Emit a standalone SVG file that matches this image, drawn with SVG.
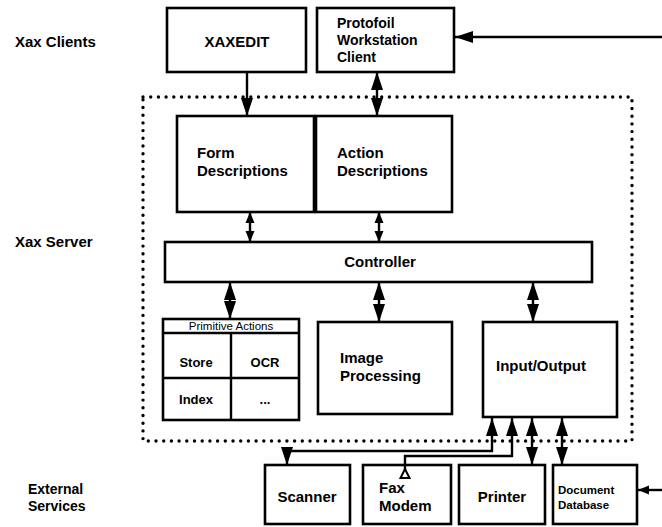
<svg xmlns="http://www.w3.org/2000/svg" width="662" height="527" viewBox="0 0 662 527">
<defs>
<style>
.box{fill:#fff;stroke:#000;stroke-width:2.6}
.ln{fill:none;stroke:#000;stroke-width:2.4}
.t{font-family:"Liberation Sans",Arial,sans-serif;font-weight:bold;font-size:15px;fill:#000}
.m{text-anchor:middle}
.sm{font-size:13px}
.ml{font-size:14px}
.xs{font-size:11.5px}
.hd{font-family:"Liberation Sans",Arial,sans-serif;font-size:11.5px;fill:#000;text-anchor:middle}
.dot{fill:none;stroke:#000;stroke-width:3.4;stroke-linecap:round;stroke-dasharray:0 7.7}
</style>
<marker id="a" markerUnits="userSpaceOnUse" markerWidth="18" markerHeight="13" refX="18" refY="6.5" orient="auto-start-reverse">
<path d="M0,0.5 L18,6.5 L0,12.5 z" fill="#000"/>
</marker>
<marker id="s" markerUnits="userSpaceOnUse" markerWidth="11" markerHeight="10" refX="11" refY="5" orient="auto-start-reverse">
<path d="M0,0.5 L11,5 L0,9.5 z" fill="#000"/>
</marker>
</defs>
<rect width="662" height="527" fill="#fff"/>

<g id="tier-labels">
<text class="t" x="15" y="47">Xax Clients</text>
<text class="t" x="15" y="247">Xax Server</text>
<text class="t ml" x="28" y="494">External</text>
<text class="t ml" x="28" y="511">Services</text>
</g>

<g id="server-boundary">
<rect class="dot" x="143" y="97" width="489" height="344"/>
</g>

<g id="xaxedit">
<rect class="box" x="167" y="8" width="139" height="64"/>
<text class="t m" x="237" y="47">XAXEDIT</text>
</g>

<g id="protofoil">
<rect class="box" x="317" y="8" width="137" height="64"/>
<text class="t ml" x="337" y="28">Protofoil</text>
<text class="t ml" x="337" y="45">Workstation</text>
<text class="t ml" x="337" y="62">Client</text>
</g>

<g id="form-descriptions">
<rect class="box" x="177" y="116" width="137" height="96"/>
<text class="t" x="197" y="158">Form</text>
<text class="t" x="197" y="176">Descriptions</text>
</g>

<g id="action-descriptions">
<rect class="box" x="316" y="116" width="136" height="96"/>
<text class="t" x="337" y="158">Action</text>
<text class="t" x="337" y="176">Descriptions</text>
</g>

<g id="controller">
<rect class="box" x="165" y="242" width="427" height="40"/>
<text class="t m" x="380" y="267">Controller</text>
</g>

<g id="primitive-actions">
<rect class="box" x="163" y="319" width="136" height="101"/>
<line class="ln" x1="163" y1="333" x2="299" y2="333"/>
<line class="ln" x1="231" y1="333" x2="231" y2="420"/>
<line class="ln" x1="163" y1="378" x2="299" y2="378"/>
<text class="hd" x="231" y="330">Primitive Actions</text>
<text class="t m sm" x="196" y="367">Store</text>
<text class="t m sm" x="265" y="367">OCR</text>
<text class="t m sm" x="196" y="404">Index</text>
<text class="t m sm" x="265" y="404">...</text>
</g>

<g id="image-processing">
<rect class="box" x="318" y="322" width="134" height="92"/>
<text class="t" x="340" y="363">Image</text>
<text class="t" x="340" y="381">Processing</text>
</g>

<g id="input-output">
<rect class="box" x="483" y="322" width="134" height="95"/>
<text class="t" x="496" y="371">Input/Output</text>
</g>

<g id="scanner">
<rect class="box" x="265" y="465" width="85" height="59"/>
<text class="t m" x="307" y="502">Scanner</text>
</g>

<g id="fax-modem">
<rect class="box" x="363" y="465" width="88" height="59"/>
<text class="t" x="379" y="493">Fax</text>
<text class="t" x="379" y="511">Modem</text>
</g>

<g id="printer">
<rect class="box" x="459" y="465" width="86" height="59"/>
<text class="t m" x="502" y="502">Printer</text>
</g>

<g id="document-database">
<rect class="box" x="553" y="465" width="84" height="59"/>
<text class="t xs" x="558" y="494">Document</text>
<text class="t xs" x="558" y="509">Database</text>
</g>

<g id="connectors">
<line class="ln" x1="662" y1="37" x2="455" y2="37" marker-end="url(#a)"/>
<line class="ln" x1="247" y1="72" x2="247" y2="116" marker-end="url(#a)"/>
<line class="ln" x1="377" y1="72" x2="377" y2="116" marker-start="url(#a)" marker-end="url(#a)"/>
<line class="ln" x1="250" y1="212" x2="250" y2="242" marker-start="url(#s)" marker-end="url(#s)"/>
<line class="ln" x1="379" y1="212" x2="379" y2="242" marker-start="url(#s)" marker-end="url(#s)"/>
<line class="ln" x1="230" y1="282" x2="230" y2="319" marker-start="url(#a)" marker-end="url(#a)"/>
<line class="ln" x1="379" y1="282" x2="379" y2="322" marker-start="url(#a)" marker-end="url(#a)"/>
<line class="ln" x1="533" y1="282" x2="533" y2="322" marker-start="url(#a)" marker-end="url(#a)"/>
<path class="ln" d="M287,465 L287,451 L492,451 L492,418" marker-start="url(#a)" marker-end="url(#a)"/>
<path class="ln" d="M405,470 L405,456 L512,456 L512,418" marker-end="url(#a)"/>
<polygon points="405,469 400.5,478 409.5,478" fill="#fff" stroke="#000" stroke-width="2"/>
<line class="ln" x1="532" y1="418" x2="532" y2="465" marker-start="url(#a)" marker-end="url(#a)"/>
<line class="ln" x1="562" y1="418" x2="562" y2="465" marker-start="url(#a)" marker-end="url(#a)"/>
<line class="ln" x1="662" y1="490" x2="638" y2="490" marker-end="url(#s)"/>
</g>
</svg>
